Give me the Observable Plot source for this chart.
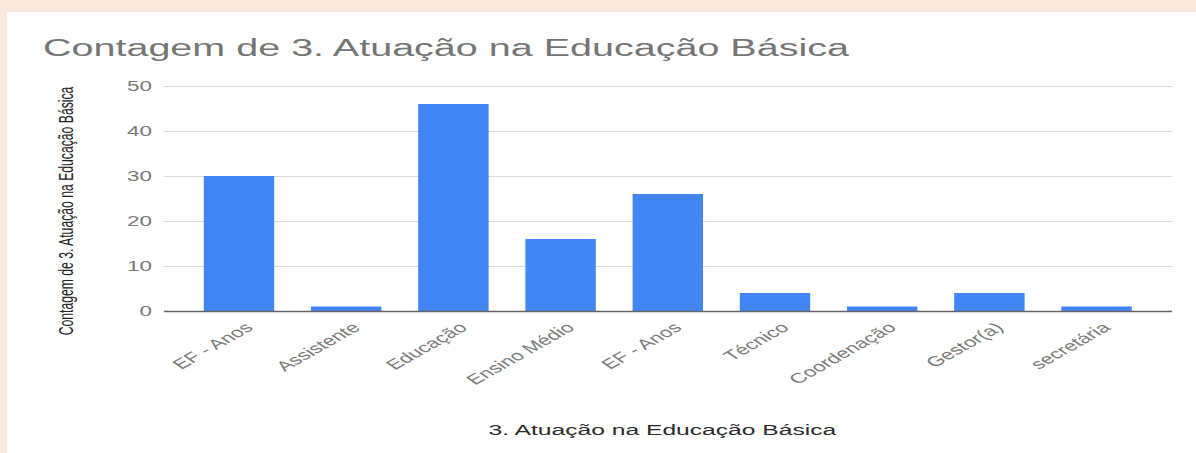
<!DOCTYPE html>
<html>
<head>
<meta charset="utf-8">
<script src="https://cdn.jsdelivr.net/npm/d3@7"></script>
<script src="https://cdn.jsdelivr.net/npm/@observablehq/plot@0.6"></script>
<style>
  html, body { margin: 0; padding: 0; overflow: hidden; }
  html { background: #fff; }
  body { width: 1196px; height: 453px; background: #fbe8dc; position: relative; font-family: "Liberation Sans", Arial, sans-serif; }
  #bg { position: absolute; left: 7px; top: 12px; width: 1200px; height: 450px; background: #fff; }
  #panel { position: absolute; left: 7px; top: 12px; width: 743.125px; height: 441px; transform: scaleX(1.6); transform-origin: 0 0; }
  #title { position: absolute; left: 22.5px; top: 24px; font-size: 24.7px; line-height: 1; color: #757575; white-space: nowrap; }
  #chart { position: absolute; left: 0; top: 58px; }
</style>
</head>
<body>
<div id="bg"></div>
<div id="panel">
  <div id="title">Contagem de 3. Atuação na Educação Básica</div>
  <div id="chart"></div>
</div>
<script>
const categories = ["EF - Anos", "Assistente", "Educação", "Ensino Médio", "EF - Anos", "Técnico", "Coordenação", "Gestor(a)", "secretária"];
const counts = [30, 1, 46, 16, 26, 4, 1, 4, 1];
const yTicks = [0, 10, 20, 30, 40, 50];
const xTitle = "3. Atuação na Educação Básica";
const yTitle = "Contagem de 3. Atuação na Educação Básica";

const data = categories.map((c, i) => ({i, c, v: counts[i]}));

const chart = Plot.plot({
  width: 743.125,
  height: 383,
  marginLeft: 98.1,
  marginRight: 15,
  marginTop: 16,
  marginBottom: 142,
  style: {background: "transparent", fontFamily: "'Liberation Sans', Arial, sans-serif"},
  x: {type: "band", domain: d3.range(categories.length), paddingInner: 0.35, paddingOuter: 0.175, insetLeft: 12, insetRight: 12},
  y: {domain: [0, 50]},
  marks: [
    Plot.gridY(yTicks, {stroke: "#d9d9d9", strokeOpacity: 1}),
    Plot.barY(data, {x: "i", y: "v", fill: "#4285f4"}),
    Plot.ruleY([0], {stroke: "#666", strokeWidth: 1.5}),
    Plot.axisY(yTicks, {tickSize: 0, tickPadding: 8, fontSize: 14, color: "#7a7a7a", label: yTitle, labelAnchor: "center", labelArrow: "none", labelOffset: 66}),
    Plot.axisX({tickSize: 0, tickPadding: 14, dx: 6, tickRotate: -42, fontSize: 14, color: "#7a7a7a", tickFormat: i => categories[i], label: null}),
    Plot.axisX({tickSize: 0, ticks: [], label: xTitle, labelAnchor: "center", labelArrow: "none", labelOffset: 123})
  ]
});
document.getElementById("chart").appendChild(chart);

// style axis labels
d3.select(chart).selectAll("[aria-label='y-axis label']").attr("fill", "#222").attr("font-size", 12.2)
  .selectAll("text").attr("dx", -12);
d3.select(chart).selectAll("[aria-label='x-axis label']").attr("fill", "#2a2a2a").attr("font-size", 15.4)
  .selectAll("text").attr("dx", -4);
</script>
</body>
</html>
